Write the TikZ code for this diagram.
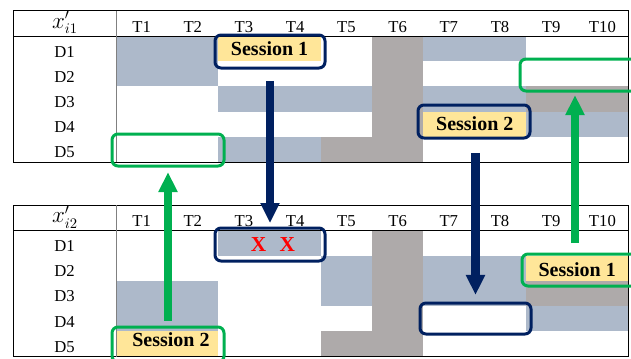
\documentclass[tikz,border=0pt]{standalone}
\usepackage{fontspec}
\setmainfont{Liberation Serif}
\usetikzlibrary{arrows.meta, fit}
\definecolor{cellBlue}{HTML}{ADB9CA}
\definecolor{cellGray}{HTML}{AEAAAA}
\definecolor{cellYellow}{HTML}{FFE699}
\definecolor{frameNavy}{HTML}{002060}
\definecolor{frameGreen}{HTML}{00B050}
\definecolor{markRed}{HTML}{FF0000}

\begin{document}
\begin{tikzpicture}[
  x=0.75pt, y=-0.75pt,
  font=\fontsize{12.5}{14}\selectfont,
  lbl/.style={anchor=base, inner sep=0pt},
  sess/.style={anchor=base, inner sep=0pt, font=\fontsize{15}{17}\selectfont\bfseries},
  navybox/.style={draw=frameNavy, line width=2.25pt, rounded corners=4.5pt, inner sep=0pt},
  greenbox/.style={draw=frameGreen, line width=2.25pt, rounded corners=4.5pt, inner sep=0pt},
  navyarrow/.style={-{Triangle[length=15pt, width=13.5pt]}, line width=6.4pt, draw=frameNavy},
  greenarrow/.style={-{Triangle[length=15pt, width=13.5pt]}, line width=6.4pt, draw=frameGreen}
]
\useasboundingbox (0,0) rectangle (631,358);

% shaded cells: y offset / first col / last col / first row / last row
\foreach \oy/\ca/\cb/\ra/\rb in {0/1/2/1/2, 0/7/8/1/1, 0/3/5/3/3, 0/7/8/3/3, 0/9/10/4/4, 0/3/4/5/5,
    194.5/3/4/1/1, 194.5/5/5/2/3, 194.5/7/8/2/3, 194.5/1/2/3/4, 194.5/9/10/4/4}
  \fill[cellBlue] ({116+(\ca-1)*51.2},{\oy+36+(\ra-1)*25.2}) rectangle ({116+\cb*51.2},{\oy+36+\rb*25.2});
\foreach \oy/\ca/\cb/\ra/\rb in {0/6/6/1/5, 0/9/10/3/3, 0/5/5/5/5,
    194.5/6/6/1/5, 194.5/9/10/3/3, 194.5/5/5/5/5}
  \fill[cellGray] ({116+(\ca-1)*51.2},{\oy+36+(\ra-1)*25.2}) rectangle ({116+\cb*51.2},{\oy+36+\rb*25.2});
\foreach \oy/\ca/\cb/\ra/\rb in {0/3/4/1/1, 0/7/8/4/4, 194.5/9/10/2/2, 194.5/1/2/5/5}
  \fill[cellYellow] ({116+(\ca-1)*51.2},{\oy+36+(\ra-1)*25.2}) rectangle ({116+\cb*51.2},{\oy+36+\rb*25.2});

% table rules and labels
\foreach \oy/\k in {0/1, 194.5/2} {
  \draw[line width=0.75pt] (13,{\oy+10.5}) rectangle (628,{\oy+162});
  \draw[line width=0.75pt] (13,{\oy+36}) -- (628,{\oy+36});
  \draw[gray, line width=0.75pt] (116,{\oy+10.5}) -- (116,{\oy+162});
  \node[lbl, font=\fontsize{16}{18}\selectfont] (x\k) at (65,{\oy+28}) {$x'_{i\k}$};
  \foreach \c in {1,...,10}
    \node[lbl] (t\k-\c) at ({116+(\c-0.5)*51.2},{\oy+32}) {T\c};
  \foreach \r in {1,...,5}
    \node[lbl] (d\k-\r) at (64.5,{\oy+36+(\r-1)*25.2+21}) {D\r};
}

% session texts
\node[sess] (sessA1) at (269.6,55) {Session 1};
\node[sess] (sessA2) at (474.8,130) {Session 2};
\node[sess] (sessB1) at (577.2,276) {Session 1};
\node[sess] (sessB2) at (171,346) {Session 2};
\node[sess, text=markRed, font=\fontsize{16}{18}\selectfont\bfseries] (marks) at (273,251) {X\hspace{10pt}X};

% frames
\node[navybox, fit={(215,35) (325,68)}] (f1) {};
\node[navybox, fit={(418,105) (530,138)}] (f2) {};
\node[greenbox, fit={(520,59) (640,91)}] (g1) {};
\node[greenbox, fit={(112,134) (224,166)}] (g2) {};
\node[navybox, fit={(215,228) (325,261)}] (f3) {};
\node[greenbox, fit={(522,254) (640,286)}] (g3) {};
\node[navybox, fit={(420,303) (531,334)}] (f4) {};
\node[greenbox, fit={(112,327) (224,362)}] (g4) {};

% moves between the two tables
\draw[navyarrow, shorten <=8.6pt, shorten >=2.6pt] (f1.south) -- (f3.north);
\draw[navyarrow, shorten <=10pt, shorten >=4.9pt] (f4.north |- f2.south) -- (f4.north);
\draw[greenarrow, shorten <=3.4pt, shorten >=3.4pt] (g4.north) -- (g2.south);
\draw[greenarrow, shorten <=7.1pt, shorten >=1.9pt] ([xshift=-4.5pt]g3.north) -- ([xshift=-4.5pt]g3.north |- g1.south);
\end{tikzpicture}
\end{document}
